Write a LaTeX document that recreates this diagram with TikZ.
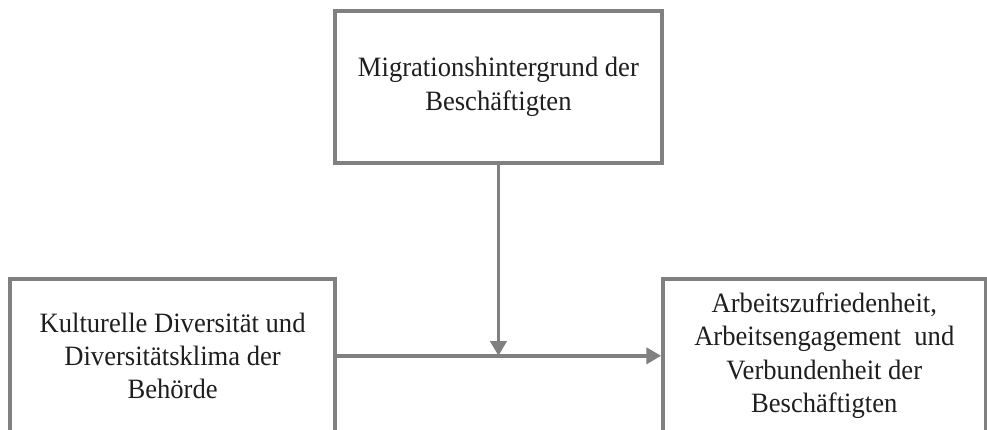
\documentclass[tikz,border=0pt]{standalone}
\usepackage{fontspec}
\setmainfont{Liberation Serif}[FakeStretch=0.95]
\usetikzlibrary{arrows.meta}

\begin{document}
\begin{tikzpicture}
	\definecolor{framegray}{HTML}{808080}
	\definecolor{textgray}{HTML}{1E1E1E}
	\tikzset{
		factor/.style={draw=framegray, line width=2.6pt, align=center, text=textgray,
			inner sep=0pt, font=\fontsize{21}{25}\selectfont},
		link/.style={framegray, line width=2.8pt, -{Triangle[length=11pt,width=12pt]}}
	}

	\path[use as bounding box] (0,0) rectangle (26.02,-11.33);
	\clip (0,0) rectangle (26.02,-11.33);

	% boxes
	\node[factor, minimum width=8.62cm, minimum height=4.01cm] (migration) at (13.14,-2.29)
		{Migrationshintergrund der\\[1pt]Beschäftigten};
	\node[factor, minimum width=8.57cm, minimum height=4.06cm] (diversity) at (4.55,-9.38)
		{Kulturelle Diversität und\\Diversitätsklima der\\Behörde};
	\node[factor, minimum width=8.51cm, minimum height=4.06cm] (outcome) at (21.73,-9.38)
		{Arbeitszufriedenheit,\\Arbeitsengagement\ \ und\\Verbundenheit der\\Beschäftigten};

	% arrows
	\draw[link] (diversity.east) -- (outcome.west);
	\draw[link] (migration.south) -- (migration.south |- diversity.east);
\end{tikzpicture}
\end{document}
